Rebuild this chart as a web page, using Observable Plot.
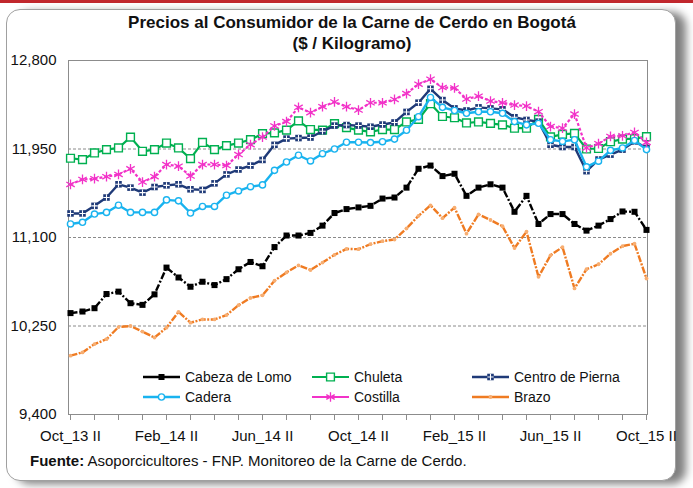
<!DOCTYPE html>
<html>
<head>
<meta charset="utf-8">
<script src="https://cdn.jsdelivr.net/npm/d3@7"></script>
<script src="https://cdn.jsdelivr.net/npm/@observablehq/plot@0.6"></script>
<style>
  html, body { margin: 0; padding: 0; background: #fff; }
  body { width: 693px; height: 488px; overflow: hidden; font-family: 'Liberation Sans Narrow', 'Arial Narrow', 'Liberation Sans', Arial, sans-serif; }
  #wrap { position: relative; width: 693px; height: 488px; overflow: hidden; background: #fff; }
  #redbar { position: absolute; left: 0; top: 0; width: 693px; height: 3px; background: #c1272d; }
  #frame { position: absolute; left: 6px; top: 9px; width: 668px; height: 470px; border: 1px solid #a0a0a0; border-radius: 14px; box-shadow: 10px 3px 8px rgba(0,0,0,0.5); background: #fff; }
  #title { position: absolute; left: 0; top: 12px; width: 704px; text-align: center; font-weight: bold; font-size: 17px; line-height: 21px; color: #111; }
  #chart { position: absolute; left: 0; top: 52px; }
  #legend { position: absolute; left: 0; top: 0; width: 693px; height: 488px; pointer-events: none; }
  .item { position: absolute; display: flex; align-items: center; font-size: 14px; color: #111; white-space: nowrap; }
  .item svg { margin-right: 5px; }
  #source { position: absolute; left: 30px; top: 452px; font-size: 15px; color: #111; white-space: nowrap; }
</style>
</head>
<body>
<div id="wrap">
  <div id="redbar"></div>
  <div id="frame"></div>
  <div id="title">Precios al Consumidor de la Carne de Cerdo en Bogotá<br>($ / Kilogramo)</div>
  <div id="chart"></div>
  <div id="legend"></div>
  <div id="source"><b>Fuente:</b> Asoporcicultores - FNP. Monitoreo de la Carne de Cerdo.</div>
</div>
<script>
const periods = ["Oct_13 II","Nov_13 I","Nov_13 II","Dic_13 I","Dic_13 II","Ene_14 I","Ene_14 II","Feb_14 I","Feb_14 II","Mar_14 I","Mar_14 II","Abr_14 I","Abr_14 II","May_14 I","May_14 II","Jun_14 I","Jun_14 II","Jul_14 I","Jul_14 II","Ago_14 I","Ago_14 II","Sep_14 I","Sep_14 II","Oct_14 I","Oct_14 II","Nov_14 I","Nov_14 II","Dic_14 I","Dic_14 II","Ene_15 I","Ene_15 II","Feb_15 I","Feb_15 II","Mar_15 I","Mar_15 II","Abr_15 I","Abr_15 II","May_15 I","May_15 II","Jun_15 I","Jun_15 II","Jul_15 I","Jul_15 II","Ago_15 I","Ago_15 II","Sep_15 I","Sep_15 II","Oct_15 I","Oct_15 II"];

const xTickLabels = ["Oct_13 II","Feb_14 II","Jun_14 II","Oct_14 II","Feb_15 II","Jun_15 II","Oct_15 II"];
const yTicks = [9400, 10250, 11100, 11950, 12800];

const cabezaDeLomo = [10374,10389,10421,10557,10580,10469,10453,10554,10811,10716,10627,10675,10643,10700,10795,10865,10824,11008,11119,11119,11144,11214,11335,11373,11389,11404,11474,11484,11579,11760,11791,11690,11712,11500,11579,11611,11579,11347,11500,11230,11325,11325,11230,11166,11214,11277,11350,11347,11173];
const chuleta = [11861,11848,11912,11944,11960,12064,11928,11944,12007,11960,11858,12013,11944,11982,12007,12040,12097,12105,12131,12220,12137,12131,12194,12156,12131,12115,12137,12137,12210,12235,12385,12262,12250,12200,12210,12196,12182,12150,12150,12235,12066,12090,12100,11950,11955,12020,12045,12050,12068];
const centroDePierna = [11331,11331,11404,11484,11611,11579,11531,11585,11601,11611,11563,11557,11620,11706,11753,11791,11845,11990,12050,12055,12060,12120,12175,12180,12175,12164,12185,12205,12306,12395,12528,12420,12340,12320,12350,12340,12331,12255,12229,12213,11991,11969,11969,11737,11849,11896,11944,12023,11960];
const cadera = [11230,11246,11325,11341,11410,11341,11341,11341,11461,11452,11335,11398,11398,11506,11547,11588,11605,11745,11825,11890,11835,11905,11950,12015,12015,12012,12020,12045,12130,12260,12445,12350,12320,12293,12308,12308,12293,12213,12182,12197,12039,12023,12039,11779,11833,11937,11960,12032,11944];
const costilla = [11610,11658,11665,11684,11706,11760,11633,11684,11801,11785,11690,11801,11801,11791,11896,11991,12065,12172,12213,12350,12299,12356,12402,12356,12324,12394,12394,12426,12483,12572,12620,12540,12537,12430,12457,12410,12394,12372,12362,12308,12166,12150,12286,11960,12001,12071,12077,12109,12013];
const brazo = [9965,9996,10076,10123,10240,10250,10196,10139,10234,10386,10282,10313,10313,10355,10450,10520,10545,10685,10765,10832,10788,10859,10934,10990,10988,11036,11065,11081,11187,11308,11409,11286,11387,11137,11322,11268,11208,10998,11157,10722,10929,11008,10611,10795,10843,10944,11017,11040,10706];

const seriesNames = ["Cabeza de Lomo","Chuleta","Centro de Pierna","Cadera","Costilla","Brazo"];
const seriesValues = [cabezaDeLomo, chuleta, centroDePierna, cadera, costilla, brazo];

const styles = {
  "Cabeza de Lomo": {color: "#000000", dash: "7,2,2,2", width: 2.4,
    dots: [{symbol: "square", r: 3.4, fill: "#000000", stroke: "none"}]},
  "Chuleta": {color: "#00b050", dash: null, width: 2.2,
    dots: [{symbol: "square", r: 4.4, fill: "#ffffff", stroke: "#00b050", strokeWidth: 1.4}]},
  "Centro de Pierna": {color: "#1f3a78", dash: null, width: 2.4,
    dots: [{symbol: "square", r: 3.7, fill: "#1f3a78", stroke: "none"},
           {symbol: "plus", r: 2.2, fill: "none", stroke: "#ffffff", strokeWidth: 1.1}]},
  "Cadera": {color: "#19b3ef", dash: null, width: 2.4,
    dots: [{symbol: "circle", r: 3.1, fill: "#ffffff", stroke: "#19b3ef", strokeWidth: 1.4}]},
  "Costilla": {color: "#f232c8", dash: "3,2", width: 2.2,
    dots: [{symbol: "asterisk", r: 4.6, fill: "none", stroke: "#f232c8", strokeWidth: 1.3}]},
  "Brazo": {color: "#ef7b22", dash: "7,1.5,2,1.5", width: 2.4,
    dots: [{symbol: "circle", r: 1.9, fill: "#f7ae72", stroke: "none"}]}
};

const tickPeriods = periods.filter((d, i) => i % 2 === 0);
const fontFam = "'Liberation Sans Narrow','Arial Narrow','Liberation Sans',Arial,sans-serif";

const seriesMarks = [];
seriesNames.forEach((name, k) => {
  const data = periods.map((p, i) => ({period: p, value: seriesValues[k][i]}));
  const st = styles[name];
  seriesMarks.push(Plot.line(data, {x: "period", y: "value", stroke: st.color, strokeWidth: st.width, strokeDasharray: st.dash, strokeLinejoin: "round", strokeLinecap: "butt"}));
  st.dots.forEach(dt => {
    seriesMarks.push(Plot.dot(data, {x: "period", y: "value", symbol: dt.symbol, r: dt.r, fill: dt.fill, stroke: dt.stroke, strokeWidth: dt.strokeWidth || 1}));
  });
});

const chart = Plot.plot({
  width: 693,
  height: 400,
  marginLeft: 68,
  marginRight: 46,
  marginTop: 8,
  marginBottom: 38,
  style: {fontFamily: fontFam, fontSize: "15px", color: "#111", background: "transparent"},
  x: {type: "point", domain: periods, padding: 0},
  y: {domain: [9400, 12800]},
  marks: [
    Plot.ruleY([10250, 11100, 11950], {stroke: "#8a8a8a", strokeWidth: 1, strokeDasharray: "3,2"}),
    Plot.frame({stroke: "#8c8c8c", strokeWidth: 1}),
    Plot.axisY({ticks: yTicks, tickSize: 0, tickPadding: 12, tickFormat: d3.format(","), label: null, fontSize: 15, fill: "#111"}),
    Plot.axisX({ticks: tickPeriods, tickSize: 6, stroke: "#8c8c8c", fill: "none", label: null}),
    Plot.axisX({ticks: xTickLabels, tickSize: 0, tickPadding: 16, label: null, fontSize: 15, fill: "#111"}),
    ...seriesMarks
  ]
});
document.getElementById("chart").appendChild(chart);

// Legend (HTML overlay)
const legendPos = {
  "Cabeza de Lomo": [143, 368], "Chuleta": [312, 368], "Centro de Pierna": [472, 368],
  "Cadera": [143, 388], "Costilla": [312, 388], "Brazo": [472, 388]
};
const legend = document.getElementById("legend");
const symMap = {square: d3.symbolSquare, circle: d3.symbolCircle, plus: d3.symbolPlus, asterisk: d3.symbolAsterisk};
seriesNames.forEach(name => {
  const st = styles[name];
  const [lx, ly] = legendPos[name];
  const item = document.createElement("div");
  item.className = "item";
  item.style.left = lx + "px";
  item.style.top = ly + "px";
  const sw = d3.create("svg").attr("width", 37).attr("height", 18);
  sw.append("line").attr("x1", 0).attr("x2", 37).attr("y1", 9).attr("y2", 9)
    .attr("stroke", st.color).attr("stroke-width", st.width);
  st.dots.forEach(dt => {
    sw.append("path").attr("transform", "translate(18.5,9)")
      .attr("d", d3.symbol(symMap[dt.symbol], Math.PI * dt.r * dt.r)())
      .attr("fill", dt.fill).attr("stroke", dt.stroke)
      .attr("stroke-width", dt.strokeWidth || 1);
  });
  item.appendChild(sw.node());
  const t = document.createElement("span");
  t.textContent = name;
  item.appendChild(t);
  legend.appendChild(item);
});
</script>
</body>
</html>
